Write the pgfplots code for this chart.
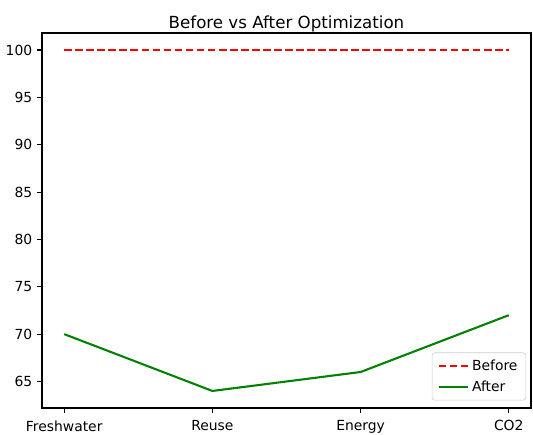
\documentclass[border=0pt]{standalone}
\usepackage{fontspec}
\setmainfont{DejaVu Sans}
\usepackage{pgfplots}
\pgfplotsset{compat=1.18}
\begin{document}
\begin{tikzpicture}
\useasboundingbox (-30.24pt,-19.44pt) rectangle (353.52pt,293.76pt);
\begin{axis}[
  at={(0,0)}, anchor=south west,
  scale only axis, width=352.08pt, height=270pt,
  xmin=-0.15, xmax=3.15, ymin=62.2, ymax=101.8,
  xtick={0,1,2,3}, xticklabels={Freshwater,Reuse,Energy,CO2},
  ytick={65,70,75,80,85,90,95,100},
  tick align=outside, tick pos=left,
  major tick length=3.5pt,
  tick style={black, line width=0.8pt},
  axis line style={line width=0.8pt},
  /pgf/number format/assume math mode=true,
  ticklabel style={font=\fontsize{10}{12}\selectfont},
  xticklabel style={yshift=-2pt},
  title={Before vs After Optimization},
  title style={font=\fontsize{12}{14}\selectfont, yshift=-8.5pt},
  legend style={font=\fontsize{10}{12}\selectfont, draw=black!20, rounded corners=2pt, inner xsep=4pt, inner ysep=3pt, row sep=2pt, at={(0.99,0.02)}, anchor=south east},
  legend cell align=left,
  legend image code/.code={\draw[#1] (0cm,0cm) -- (0.75cm,0cm);},
]
\addplot[red, line width=1.5pt, dash pattern=on 5.55pt off 2.4pt] coordinates {(0,100) (1,100) (2,100) (3,100)};
\addlegendentry{Before}
\addplot[color={rgb,1:red,0;green,0.5;blue,0}, line width=1.5pt] coordinates {(0,70) (1,64) (2,66) (3,72)};
\addlegendentry{After}
\end{axis}
\end{tikzpicture}
\end{document}
